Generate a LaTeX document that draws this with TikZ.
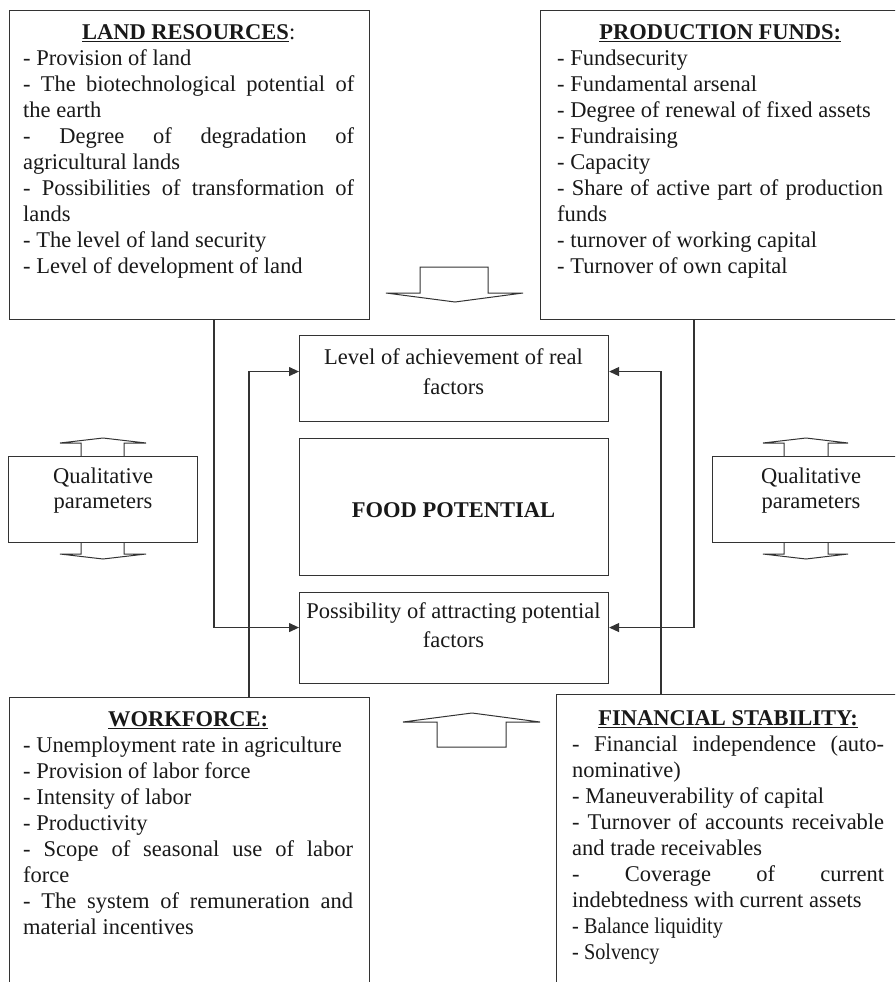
\documentclass[tikz,border=0pt]{standalone}
\usepackage{fontspec}
\setmainfont{Liberation Serif}
\usetikzlibrary{arrows.meta}
\definecolor{linecol}{gray}{0.2}
\definecolor{txtcol}{gray}{0.1}
\begin{document}
\begin{tikzpicture}[x=1pt,y=-1pt,
  box/.style={draw=linecol, line width=1.1pt, inner sep=0pt, anchor=north west},
  body/.style={anchor=north west, inner sep=0pt, align=justify, text=txtcol,
    font=\fontsize{22.5}{26}\selectfont,
    execute at begin node={\setlength\parindent{0pt}\tolerance=10000\hbadness=10000\hyphenpenalty=10000}},
  ctext/.style={anchor=north, inner sep=0pt, align=center, text=txtcol},
  conn/.style={draw=linecol, line width=1.1pt, -{Triangle[length=10pt,width=9pt]}},
  barrow/.style={draw=linecol, line width=1pt, line join=miter}]
\fill[white] (0,0) rectangle (895,982);
\useasboundingbox (0,0) rectangle (895,982);
\clip (0,0) rectangle (895,982);

% boxes
\node[box, minimum width=360pt, minimum height=309pt] (land) at (9,10) {};
\node[box, minimum width=360pt, minimum height=309pt] (prod) at (540,10) {};
\node[box, minimum width=309pt, minimum height=86pt] (level) at (299,335) {};
\node[box, minimum width=309pt, minimum height=137pt] (food) at (299,438) {};
\node[box, minimum width=309pt, minimum height=91pt] (poss) at (299,592) {};
\node[box, minimum width=189pt, minimum height=86pt] (qualL) at (8,456) {};
\node[box, minimum width=198pt, minimum height=86pt] (qualR) at (712,456) {};
\node[box, minimum width=360pt, minimum height=320pt] (work) at (9,697) {};
\node[box, minimum width=360pt, minimum height=320pt] (fin) at (556,694) {};

% box texts
\node[body, text width=331pt] (landT) at (23,21.3) {{\centering\strut\underline{\textbf{LAND RESOURCES}}:\par}
- Provision of land\par
- The biotechnological potential of\linebreak the earth\par
- Degree of degradation of\linebreak agricultural lands\par
- Possibilities of transformation of\linebreak lands\par
- The level of land security\par
- Level of development of land\par};

\node[body, text width=326pt] (prodT) at (557,21.3) {{\centering\strut\underline{\textbf{PRODUCTION FUNDS:}}\par}
- Fundsecurity\par
- Fundamental arsenal\par
- Degree of renewal of fixed assets\par
- Fundraising\par
- Capacity\par
- Share of active part of production\linebreak funds\par
- turnover of working capital\par
- Turnover of own capital\par};

\node[body, text width=330pt] (workT) at (23,707.8) {{\centering\strut\underline{\textbf{WORKFORCE:}}\par}
- Unemployment rate in agriculture\par
- Provision of labor force\par
- Intensity of labor\par
- Productivity\par
- Scope of seasonal use of labor\linebreak force\par
- The system of remuneration and\linebreak material incentives\par};

\node[body, text width=312pt] (finT) at (572,706.8) {{\centering\strut\underline{\textbf{FINANCIAL STABILITY:}}\par}
- Financial independence (auto-\linebreak nominative)\par
- Maneuverability of capital\par
- Turnover of accounts receivable\linebreak and trade receivables\par
- Coverage of current\linebreak indebtedness with current assets\par
\scalebox{0.9}[1]{- Balance liquidity}\par
\scalebox{0.9}[1]{- Solvency}\par};

\node[ctext, font=\fontsize{22.5}{30}\selectfont] (levelT) at (453.5,343) {\strut Level of achievement of real\\factors};
\node[anchor=base, inner sep=0pt, text=txtcol, font=\fontsize{22.5}{26}\selectfont\bfseries] (foodT) at (453.5,517) {FOOD POTENTIAL};
\node[ctext, font=\fontsize{22.5}{29}\selectfont] (possT) at (453.5,598) {\strut Possibility of attracting potential\\factors};
\node[ctext, font=\fontsize{22.5}{25}\selectfont] (qualLT) at (103,465.5) {\strut Qualitative\\parameters};
\node[ctext, font=\fontsize{22.5}{25}\selectfont] (qualRT) at (811,465.5) {\strut Qualitative\\parameters};

% connectors
\coordinate (cL) at (214,0);
\coordinate (cR) at (694,0);
\coordinate (cl) at (249,0);
\coordinate (cr) at (661,0);
\draw[conn] (land.south -| cL) |- ([yshift=10.5pt]poss.west);
\draw[conn] (prod.south -| cR) |- ([yshift=10.5pt]poss.east);
\draw[conn] (work.north -| cl) |- ([yshift=7pt]level.west);
\draw[conn] (fin.north -| cr) |- ([yshift=7pt]level.east);

% block arrows
\draw[barrow] (420,267) -- (488,267) -- (488,293) -- (523,293) -- (455,302) -- (386,293) -- (420,293) -- cycle;
\draw[barrow] (437,747) -- (506,747) -- (506,722) -- (540,722) -- (472,713) -- (403,722) -- (437,722) -- cycle;
\draw[barrow] (81,456) -- (81,443) -- (60,443) -- (103,438) -- (146,443) -- (124,443) -- (124,456);
\draw[barrow] (81,542) -- (81,554) -- (60,554) -- (103,559) -- (146,554) -- (124,554) -- (124,542);
\draw[barrow] (784,456) -- (784,443) -- (763,443) -- (806,438) -- (848,443) -- (828,443) -- (828,456);
\draw[barrow] (784,542) -- (784,554) -- (763,554) -- (806,559) -- (848,554) -- (828,554) -- (828,542);
\end{tikzpicture}
\end{document}
